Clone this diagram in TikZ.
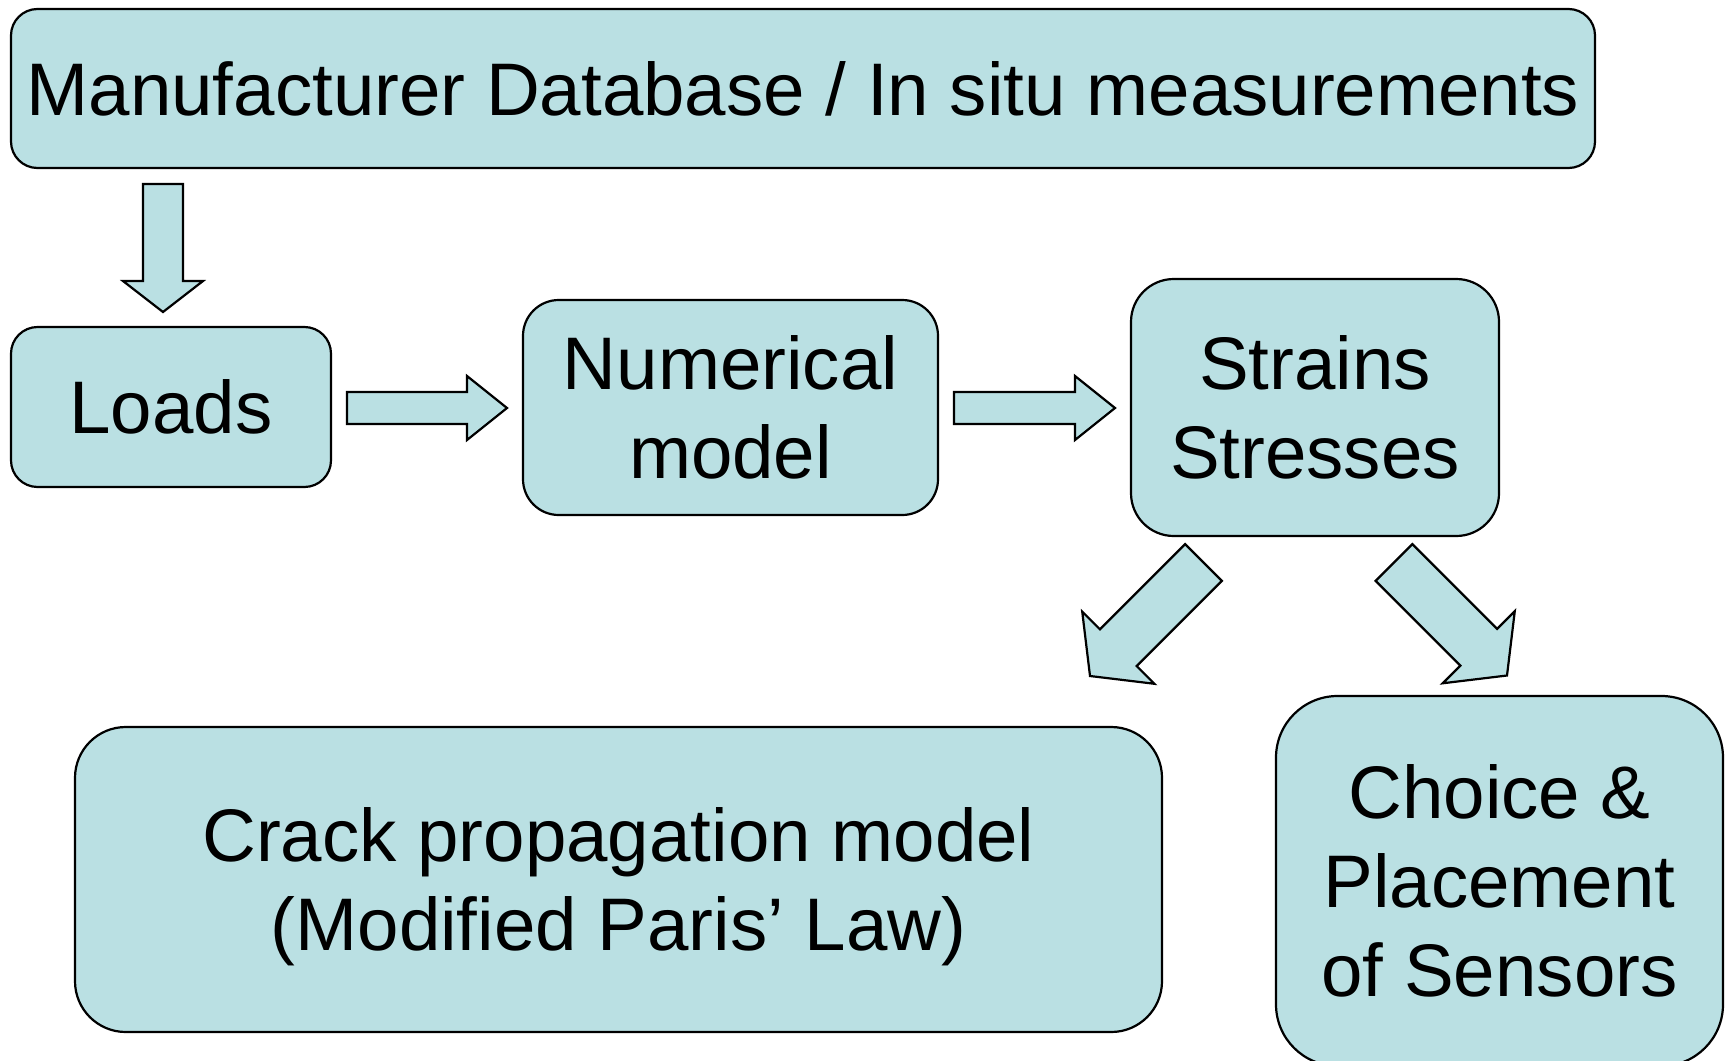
\documentclass[tikz,border=0pt]{standalone}
\usepackage{fontspec}
\setmainfont{Liberation Sans}
\usepackage{tikz}
\usetikzlibrary{calc}
\definecolor{boxblue}{RGB}{186,224,227}
\newcommand{\boxfont}{\fontsize{37.25pt}{44.5pt}\selectfont}
% block arrow: from, to, half shaft, half head, head length
\newcommand{\blockarrow}[5]{%
  \coordinate (hb) at ($(#2)!#5!(#1)$);
  \draw[blockarrowstyle] ($(#1)!#3!90:(#2)$) -- ($(hb)!#3!90:(#2)$) -- ($(hb)!#4!90:(#2)$) -- (#2)
    -- ($(hb)!#4!-90:(#2)$) -- ($(hb)!#3!-90:(#2)$) -- ($(#1)!#3!-90:(#2)$) -- cycle;
}

\begin{document}
\begin{tikzpicture}[x=0.5pt, y=-0.5pt,
    flowbox/.style={draw, fill=boxblue, line width=1.1pt, align=center, inner sep=0pt,
      font=\boxfont, text depth=0pt},
    oneline/.style={text height=26.7pt},
    twolines/.style={text height=71.2pt},
    threelines/.style={text height=115.7pt},
    blockarrowstyle/.style={draw, fill=boxblue, line width=1.1pt, line join=miter}]
    \useasboundingbox (0,0) rectangle (1729,1060);

    \node[flowbox, oneline, minimum width=792pt, minimum height=79.5pt, rounded corners=13.25pt] (source) at (803,88.5) {Manufacturer Database / In situ measurements};
    \node[flowbox, oneline, minimum width=160pt, minimum height=80pt, rounded corners=13.3pt] (loads) at (171,407) {Loads};
    \node[flowbox, twolines, minimum width=207.5pt, minimum height=107.5pt, rounded corners=17.9pt] (model) at (730.5,407.5) {Numerical\\model};
    \node[flowbox, twolines, minimum width=184pt, minimum height=128.5pt, rounded corners=21.4pt] (strain) at (1315,407.5) {Strains\\Stresses};
    \node[flowbox, twolines, minimum width=543.5pt, minimum height=152.5pt, rounded corners=25.4pt] (crack) at (618.5,879.5) {Crack propagation model\\(Modified Paris’ Law)};
    \node[flowbox, threelines, minimum width=223.5pt, minimum height=185pt, rounded corners=30.8pt] (sensors) at (1499.5,881) {Choice \&\\Placement\\of Sensors};

    \coordinate (dsrc) at (163,184);
    \coordinate (dload) at (163,312);
    \coordinate (lout) at (347,408);
    \coordinate (min) at (507,408);
    \coordinate (mout) at (954,408);
    \coordinate (sin) at (1115,408);
    \coordinate (sleft) at (1203.5,562.5);
    \coordinate (cin) at (1090,676);
    \coordinate (sright) at (1394,562.5);
    \coordinate (pin) at (1507,675.5);

    \blockarrow{dsrc}{dload}{10pt}{20pt}{15.5pt}
    \blockarrow{lout}{min}{8pt}{16pt}{20pt}
    \blockarrow{mout}{sin}{8pt}{16pt}{20pt}
    \blockarrow{sleft}{cin}{13pt}{25.5pt}{20pt}
    \blockarrow{sright}{pin}{13pt}{25.5pt}{20pt}
\end{tikzpicture}
\end{document}
